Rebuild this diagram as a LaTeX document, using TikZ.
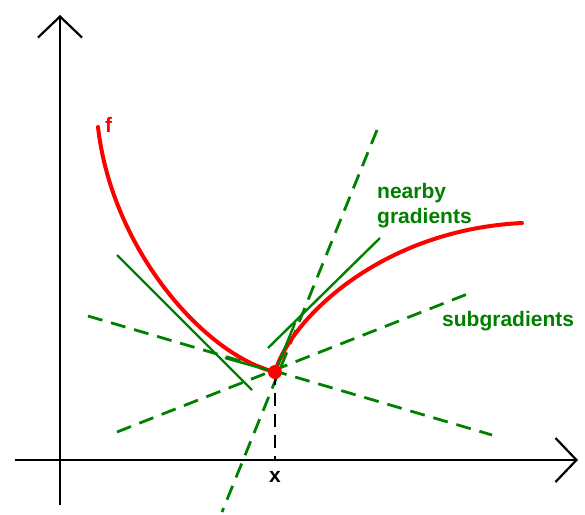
\documentclass[tikz,border=0pt]{standalone}
\usepackage{fontspec}
\setmainfont{Liberation Sans}
\usetikzlibrary{arrows.meta,positioning}
\colorlet{gzold}{green!50!black}
\tikzset{
  dot/.style={circle,fill=red,inner sep=0pt,minimum size=14pt},
  axisln/.style={line width=2.2pt,-{Straight Barb[length=21pt,width=44pt,line width=2.2pt]}},
  fline/.style={red,line width=4pt,line cap=round},
  grad/.style={gzold,line width=2.4pt},
  subgrad/.style={gzold,line width=2.8pt,dash pattern=on 15pt off 9pt},
  drop/.style={black,line width=2pt,dash pattern=on 13pt off 8pt},
  lab/.style={inner sep=0pt,font=\fontsize{21}{25}\selectfont\bfseries},
}
\begin{document}
\begin{tikzpicture}[x=1pt,y=-1pt]
  \useasboundingbox (0,0) rectangle (585,514);
  % axes
  \coordinate (yb) at (60,505);
  \coordinate (yt) at (60,15);
  \coordinate (xl) at (15,460);
  \coordinate (xr) at (578,460);
  \draw[axisln] (yb) -- (yt);
  \draw[axisln] (xl) -- (xr);

  \coordinate (x0) at (275,372);
  \coordinate (xa) at (275,460);

  % subgradients (dashed)
  \coordinate (s1a) at (377,130);
  \coordinate (s1b) at (222,512);
  \coordinate (s2a) at (88,316);
  \coordinate (s2b) at (492,435);
  \coordinate (s3a) at (117,432);
  \coordinate (s3b) at (470,293);
  \draw[subgrad] (s1a) -- (s1b);
  \draw[subgrad] (s2a) -- (s2b);
  \draw[subgrad] (s3a) -- (s3b);

  % the function
  \coordinate (fstart) at (98,127);
  \coordinate (fend) at (522,223);
  \draw[fline] (fstart) .. controls (112,250) and (205,355) .. (x0)
    .. controls (290,320) and (380,230) .. (fend);

  % nearby gradients (solid)
  \coordinate (g1a) at (117,255);
  \coordinate (g1b) at (252,390);
  \coordinate (g2a) at (268,348);
  \coordinate (g2b) at (380,238);
  \coordinate (g3a) at (225,358);
  \coordinate (g4b) at (295,323);
  \draw[grad] (g1a) -- (g1b);
  \draw[grad] (g2a) -- (g2b);
  \draw[grad] (g3a) -- (x0) -- (g4b);

  \draw[drop] (x0) -- (xa);
  \node[dot] (p) at (x0) {};

  % labels
  \node[lab,red,anchor=south west] (flab) at (105,133) {f};
  \node[lab,below=11pt of xa] (xlab) {x};
  \node[lab,gzold,align=left,anchor=west] (nblab) at (377,206) {nearby\\gradients};
  \node[lab,gzold,anchor=west] (sglab) at (442,321) {subgradients};
\end{tikzpicture}
\end{document}
